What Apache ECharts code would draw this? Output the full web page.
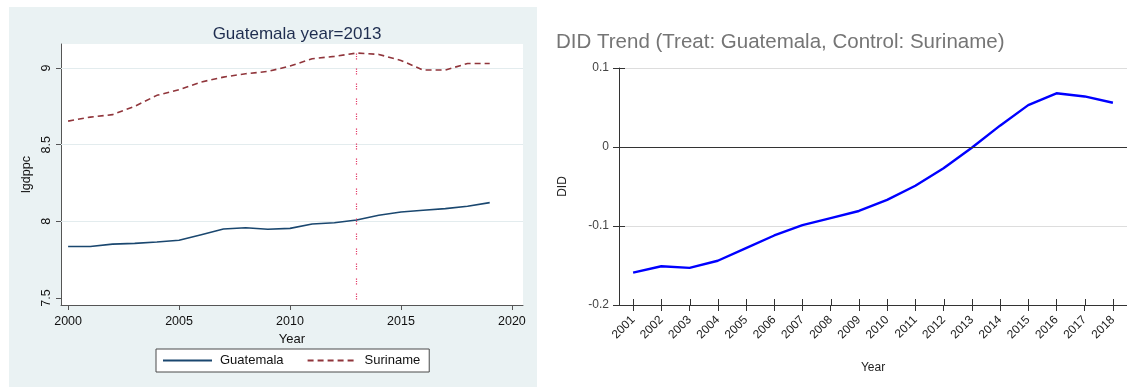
<!DOCTYPE html>
<html>
<head>
<meta charset="utf-8">
<script src="https://cdn.jsdelivr.net/npm/echarts@6/dist/echarts.min.js"></script>
<style>
  html, body { margin: 0; padding: 0; background: #ffffff; }
  #chart { width: 1127px; height: 387px; }
</style>
</head>
<body>
<div id="chart"></div>
<script>
// Log GDP per capita, Guatemala vs Suriname
const years = [2000, 2001, 2002, 2003, 2004, 2005, 2006, 2007, 2008, 2009,
               2010, 2011, 2012, 2013, 2014, 2015, 2016, 2017, 2018, 2019];
const guatemala = [7.836, 7.836, 7.851, 7.856, 7.865, 7.876, 7.913, 7.950, 7.958, 7.948,
                   7.954, 7.983, 7.991, 8.009, 8.040, 8.061, 8.072, 8.083, 8.098, 8.122];
const suriname = [8.654, 8.680, 8.696, 8.750, 8.822, 8.859, 8.909, 8.941, 8.963, 8.978,
                  9.013, 9.061, 9.076, 9.098, 9.089, 9.050, 8.987, 8.987, 9.030, 9.030];
const treatYear = 2013;
const leftXTicks = [2000, 2005, 2010, 2015, 2020];
const leftYTicks = [7.5, 8, 8.5, 9];
const leftGridLines = [8, 8.5, 9];

// Difference-in-differences trend
const didYears = ['2001', '2002', '2003', '2004', '2005', '2006', '2007', '2008', '2009',
                  '2010', '2011', '2012', '2013', '2014', '2015', '2016', '2017', '2018'];
const did = [-0.159, -0.151, -0.153, -0.144, -0.128, -0.112, -0.099, -0.090, -0.081,
             -0.067, -0.049, -0.027, -0.001, 0.027, 0.053, 0.068, 0.064, 0.056];
const didYTicks = [-0.2, -0.1, 0, 0.1];

const FONT = '"Liberation Sans", Arial, sans-serif';
const chart = echarts.init(document.getElementById('chart'), null, { renderer: 'canvas' });

const pairs = (ys) => years.map((y, i) => [y, ys[i]]);

// Inner half of the crossing tick marks on the DID plot: [category index, value, kind]
// kind 0 = x tick on the bottom edge, kind 1 = y tick on the left edge.
const TICK_IN = 6;
const innerTicks = didYears.map((_, i) => [i, -0.2, 0])
  .concat(didYTicks.map((v) => [0, v, 1]));

chart.setOption({
  animation: false,
  textStyle: { fontFamily: FONT },
  graphic: [{
    type: 'rect', z: -10, silent: true,
    shape: { x: 9, y: 7, width: 528, height: 380 },
    style: { fill: '#eaf2f3' }
  }],
  title: [{
    text: 'Guatemala year=2013',
    left: 292, top: 21, textAlign: 'center',
    textStyle: { fontFamily: FONT, fontSize: 17, fontWeight: 'normal', color: '#1e2d4f' }
  }, {
    text: 'DID Trend (Treat: Guatemala, Control: Suriname)',
    left: 551, top: 27,
    textStyle: { fontFamily: FONT, fontSize: 20.5, fontWeight: 'normal', color: '#757575' }
  }],
  legend: {
    data: ['Guatemala', 'Suriname'],
    left: 156, top: 349,
    padding: [5, 9, 5, 6],
    itemWidth: 49, itemHeight: 14, itemGap: 23,
    itemStyle: { opacity: 0 },
    backgroundColor: '#ffffff', borderColor: '#4a4a4a', borderWidth: 1, borderRadius: 0,
    textStyle: { fontFamily: FONT, fontSize: 13, color: '#111', padding: [0, 0, 0, 3] }
  },
  grid: [
    { left: 61, top: 44, width: 462, height: 261, show: true, backgroundColor: '#ffffff', borderWidth: 0 },
    { left: 619, top: 68, width: 510, height: 237 }
  ],
  xAxis: [{
    type: 'value', gridIndex: 0, min: 1999.68, max: 2020.5,
    name: 'Year', nameLocation: 'middle', nameGap: 20,
    nameTextStyle: { fontFamily: FONT, fontSize: 13, color: '#111' },
    axisLine: { show: true, onZero: false, lineStyle: { color: '#555', width: 1 } },
    axisTick: { show: true, length: 5, customValues: leftXTicks, lineStyle: { color: '#555' } },
    axisLabel: { customValues: leftXTicks, fontSize: 12.5, color: '#111', margin: 10,
                 formatter: (v) => String(v) },
    splitLine: { show: false }
  }, {
    type: 'category', gridIndex: 1, data: didYears, boundaryGap: true, position: 'bottom',
    name: 'Year', nameLocation: 'middle', nameGap: 57,
    nameTextStyle: { fontFamily: FONT, fontSize: 12, color: '#222' },
    axisLine: { show: true, onZero: false, lineStyle: { color: '#333', width: 1 } },
    axisTick: { show: true, alignWithLabel: true, length: 6, interval: 0, lineStyle: { color: '#333' } },
    axisLabel: { rotate: 45, interval: 0, fontSize: 12, color: '#222', margin: 13 },
    splitLine: { show: false }
  }],
  yAxis: [{
    type: 'value', gridIndex: 0, min: 7.454, max: 9.157,
    name: 'lgdppc', nameLocation: 'middle', nameGap: 28,
    nameTextStyle: { fontFamily: FONT, fontSize: 12.5, color: '#111' },
    axisLine: { show: true, onZero: false, lineStyle: { color: '#555', width: 1 } },
    axisTick: { show: true, length: 5, customValues: leftYTicks, lineStyle: { color: '#555' } },
    axisLabel: { customValues: leftYTicks, rotate: 90, fontSize: 12.5, color: '#111', margin: 8 },
    splitLine: { show: false }
  }, {
    type: 'value', gridIndex: 1, min: -0.2, max: 0.1, interval: 0.1, position: 'left',
    name: 'DID', nameLocation: 'middle', nameGap: 50,
    nameTextStyle: { fontFamily: FONT, fontSize: 12, color: '#222' },
    axisLine: { show: true, onZero: false, lineStyle: { color: '#333', width: 1 } },
    axisTick: { show: true, length: 6, lineStyle: { color: '#333' } },
    axisLabel: {
      fontSize: 12, color: '#444', margin: 10,
      formatter: (v) => String(Math.round(v * 10) / 10)
    },
    splitLine: { show: true, lineStyle: { color: '#dddddd', width: 1 } }
  }],
  series: [{
    name: 'Guatemala', type: 'line', xAxisIndex: 0, yAxisIndex: 0,
    data: pairs(guatemala), symbol: 'none', smooth: false,
    lineStyle: { color: '#1a476f', width: 1.6 },
    itemStyle: { color: '#1a476f' },
    z: 3,
    markLine: {
      silent: true, symbol: 'none', label: { show: false }, z: 1,
      lineStyle: { color: '#e3ecee', width: 1, type: 'solid' },
      data: leftGridLines.map((v) => ({ yAxis: v }))
    }
  }, {
    name: 'Suriname', type: 'line', xAxisIndex: 0, yAxisIndex: 0,
    data: pairs(suriname), symbol: 'none', smooth: false,
    lineStyle: { color: '#90353b', width: 1.6, type: [6, 4] },
    itemStyle: { color: '#90353b' },
    z: 3,
    markLine: {
      silent: true, symbol: 'none', label: { show: false },
      lineStyle: { color: '#e0305f', width: 1.2, type: [1.2, 1.2, 1.2, 1.2, 1.2, 9] },
      data: [[{ coord: [treatYear, 7.49] }, { coord: [treatYear, 9.12] }]]
    }
  }, {
    name: 'DID', type: 'line', xAxisIndex: 1, yAxisIndex: 1,
    data: did, symbol: 'none', smooth: false,
    lineStyle: { color: '#0000ff', width: 2.4 },
    itemStyle: { color: '#0000ff' },
    z: 3,
    markLine: {
      silent: true, symbol: 'none', label: { show: false },
      lineStyle: { color: '#333', width: 1, type: 'solid' },
      data: [{ yAxis: 0 }]
    }
  }, {
    // inner half of the crossing tick marks
    name: 'ticks', type: 'custom', xAxisIndex: 1, yAxisIndex: 1,
    coordinateSystem: 'cartesian2d',
    silent: true, clip: false, z: 5,
    encode: { x: 0, y: 1 },
    dimensions: ['cat', 'val', 'kind'],
    data: innerTicks,
    renderItem: function (params, api) {
      const kind = api.value(2);
      const cs = params.coordSys;
      const p = api.coord([api.value(0), api.value(1)]);
      if (kind === 1) {
        const y = Math.round(p[1]) + 0.5;
        return { type: 'line', shape: { x1: cs.x, y1: y, x2: cs.x + TICK_IN, y2: y },
                 style: { stroke: '#333', lineWidth: 1 } };
      }
      const x = Math.round(p[0]) + 0.5;
      const yb = cs.y + cs.height;
      return { type: 'line', shape: { x1: x, y1: yb, x2: x, y2: yb - TICK_IN },
               style: { stroke: '#333', lineWidth: 1 } };
    }
  }]
});
</script>
</body>
</html>
